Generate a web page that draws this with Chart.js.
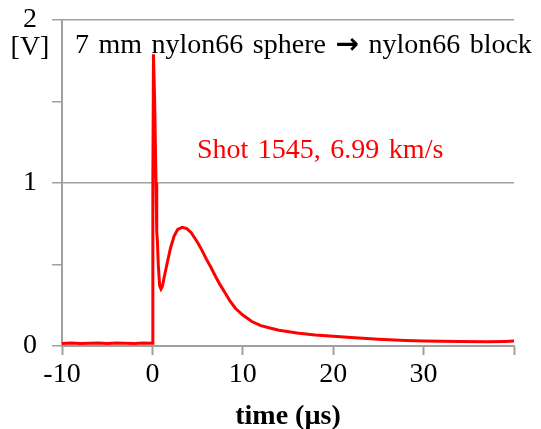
<!DOCTYPE html>
<html>
<head>
<meta charset="utf-8">
<script src="https://cdn.jsdelivr.net/npm/chart.js@4/dist/chart.umd.min.js"></script>
<style>
  html, body { margin: 0; padding: 0; background: #fff; }
  canvas { display: block; }
</style>
</head>
<body>
<canvas id="shotChart" width="541" height="429"></canvas>
<script>
// time axis (µs) and signal (V)
const timeUs = [-10, -9, -8, -7, -6, -5, -4, -3, -2, -1, -0.02,
  0.05, 0.12, 0.25, 0.4, 0.48, 0.55, 0.65, 0.8, 0.95, 1.1, 1.3, 1.6, 2.0, 2.4, 2.8, 3.3, 3.8, 4.3,
  5.0, 5.5, 6.0, 6.5, 7.0, 7.5, 8.0, 8.6, 9.2, 10, 11, 12, 13, 14, 16, 18, 20, 22, 25, 28, 30, 34, 37, 39, 40];
const voltage = [0.016, 0.018, 0.016, 0.017, 0.019, 0.016, 0.018, 0.017, 0.016, 0.018, 0.017,
  1.0, 1.79, 1.5, 1.0, 0.7, 0.65, 0.5, 0.37, 0.35, 0.365, 0.42, 0.5, 0.6, 0.675, 0.715, 0.728, 0.72, 0.695,
  0.635, 0.585, 0.53, 0.48, 0.425, 0.375, 0.33, 0.275, 0.23, 0.19, 0.15, 0.125, 0.11, 0.097, 0.08, 0.068, 0.06, 0.052, 0.042, 0.034, 0.031, 0.028, 0.026, 0.028, 0.03];
const xTicks = [-10, 0, 10, 20, 30];
const yTicks = [0, 1, 2];

const titleParts = ['7 mm nylon66 sphere ', '\u2192', ' nylon66 block'];
const shotText = 'Shot 1545, 6.99 km/s';
const serif = "'Liberation Serif', 'Times New Roman', serif";

const points = timeUs.map((t, i) => ({ x: t, y: voltage[i] }));

const textPlugin = {
  id: 'labels',
  afterDraw(chart) {
    const ctx = chart.ctx;
    ctx.save();
    ctx.font = '28px ' + serif;
    ctx.wordSpacing = '2.5px';
    ctx.textBaseline = 'alphabetic';
    ctx.fillStyle = '#000';
    ctx.textAlign = 'center';
    ctx.fillText('[V]', 30, 55);
    ctx.textAlign = 'left';
    // title, with a heavier arrow as in the original
    let x = 75;
    ctx.fillText(titleParts[0], x, 53);
    x += ctx.measureText(titleParts[0]).width;
    ctx.font = 'bold 28px "DejaVu Sans"';
    ctx.fillText(titleParts[1], x, 53);
    x += ctx.measureText(titleParts[1]).width;
    ctx.font = '28px ' + serif;
    ctx.fillText(titleParts[2], x, 53);
    ctx.fillStyle = '#ff0000';
    ctx.fillText(shotText, 197, 158);
    ctx.restore();
  }
};

new Chart(document.getElementById('shotChart'), {
  type: 'scatter',
  data: {
    datasets: [{
      data: points,
      showLine: true,
      borderColor: '#ff0000',
      borderWidth: 3,
      pointRadius: 0,
      tension: 0
    }]
  },
  options: {
    responsive: false,
    animation: false,
    devicePixelRatio: 1,
    layout: { padding: { top: 20, right: 27, left: 0, bottom: 0 } },
    plugins: { legend: { display: false }, tooltip: { enabled: false } },
    scales: {
      x: {
        type: 'linear',
        min: -10,
        max: 40,
        afterFit(scale) { scale.height = 83; scale.paddingLeft = 0; scale.paddingRight = 0; },
        border: { color: '#a0a0a0', width: 2 },
        grid: { drawOnChartArea: false, tickLength: 9, tickColor: '#a0a0a0', tickWidth: 2 },
        ticks: {
          stepSize: 10,
          padding: 3,
          color: '#000',
          font: { family: serif, size: 28 },
          callback: v => xTicks.includes(v) ? String(v) : ''
        },
        title: {
          display: true,
          text: 'time (\u00b5s)',
          color: '#000',
          font: { family: serif, size: 28, weight: 'bold', lineHeight: 0.9 },
          padding: { top: 0, bottom: 0 }
        }
      },
      y: {
        min: 0,
        max: 2,
        afterFit(scale) { scale.width = 62; scale.paddingTop = 0; scale.paddingBottom = 0; },
        border: { color: '#a0a0a0', width: 2 },
        grid: {
          color: c => (c.tick && (c.tick.value === 1 || c.tick.value === 2)) ? '#a0a0a0' : 'rgba(0,0,0,0)',
          lineWidth: 1.5,
          tickLength: 10,
          tickColor: '#a0a0a0',
          tickWidth: 1.5
        },
        ticks: {
          stepSize: 0.5,
          padding: 15,
          color: '#000',
          font: { family: serif, size: 28 },
          callback: v => yTicks.includes(v) ? String(v) : ''
        }
      }
    }
  },
  plugins: [textPlugin]
});
</script>
</body>
</html>
